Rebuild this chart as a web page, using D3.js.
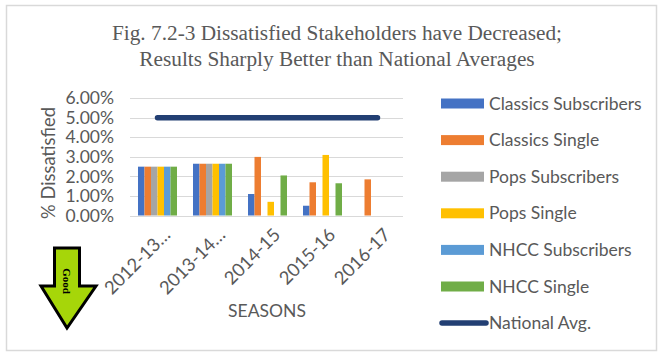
<!DOCTYPE html>
<html>
<head>
<meta charset="utf-8">
<script src="https://cdn.jsdelivr.net/npm/d3@7/dist/d3.min.js"></script>
<style>
  html, body { margin: 0; padding: 0; background: #fff; }
  svg { display: block; }
</style>
</head>
<body>
<svg id="chart" width="665" height="359"></svg>
<script>
// ---- Data ----
const seasons = ["2012-13…", "2013-14…", "2014-15", "2015-16", "2016-17"];
const seriesNames = ["Classics Subscribers", "Classics Single", "Pops Subscribers", "Pops Single", "NHCC Subscribers", "NHCC Single"];
const classicsSubscribers = [2.5, 2.65, 1.1, 0.5, null];
const classicsSingle      = [2.5, 2.65, 3.0, 1.7, 1.85];
const popsSubscribers     = [2.5, 2.65, null, null, null];
const popsSingle          = [2.5, 2.65, 0.7, 3.1, null];
const nhccSubscribers     = [2.5, 2.65, null, null, null];
const nhccSingle          = [2.5, 2.65, 2.05, 1.65, null];
const nationalAvg         = [5, 5, 5, 5, 5];
const yTicks = [0, 1, 2, 3, 4, 5, 6];
const titleLines = ["Fig. 7.2-3 Dissatisfied Stakeholders have Decreased;", "Results Sharply Better than National Averages"];

const seriesValues = [classicsSubscribers, classicsSingle, popsSubscribers, popsSingle, nhccSubscribers, nhccSingle];
const colors = ["#4472C4", "#ED7D31", "#A5A5A5", "#FFC000", "#5B9BD5", "#70AD47"];
const lineColor = "#223F73";
const textColor = "#595959";
const font = "Lato, 'Open Sans', sans-serif";

const svg = d3.select("#chart");

// Chart border
svg.append("rect").attr("x", 6.5).attr("y", 5.5).attr("width", 650).attr("height", 345)
  .attr("fill", "#fff").attr("stroke", "#d9d9d9").attr("stroke-width", 1.5);

// Title
svg.append("g").selectAll("text").data(titleLines).join("text")
  .attr("x", 337).attr("y", (d, i) => 40 + i * 26)
  .attr("text-anchor", "middle")
  .attr("font-family", "'Liberation Serif', 'Times New Roman', serif")
  .attr("font-size", 21.3).attr("fill", textColor)
  .text(d => d);

// Scales
const x0 = d3.scaleBand().domain(seasons).range([130, 405]).paddingInner(0).paddingOuter(0);
const groupPad = (1 - 39 / 55) / 2;
const x1 = d3.scaleBand().domain(seriesNames)
  .range([x0.bandwidth() * groupPad, x0.bandwidth() * (1 - groupPad)]).paddingInner(0).paddingOuter(0);
const y = d3.scaleLinear().domain([0, 6]).range([215.5, 98.3]);

// Gridlines
svg.append("g").selectAll("line").data(yTicks).join("line")
  .attr("x1", 130).attr("x2", 403)
  .attr("y1", d => Math.round(y(d)) + 0.5).attr("y2", d => Math.round(y(d)) + 0.5)
  .attr("stroke", "#d9d9d9").attr("stroke-width", 1);

// Y axis labels
const yAxis = d3.axisLeft(y).tickValues(yTicks).tickSize(0).tickPadding(0)
  .tickFormat(d => d3.format(".2f")(d) + "%");
const yg = svg.append("g").attr("transform", "translate(114,0)").call(yAxis);
yg.select(".domain").remove();
yg.selectAll("text").attr("font-family", font).attr("font-size", 17.5).attr("fill", textColor);

// Bars
const flat = [];
seriesValues.forEach((vals, si) => vals.forEach((v, ci) => {
  if (v != null) flat.push({ s: seriesNames[si], si, c: seasons[ci], v });
}));
svg.append("g").selectAll("rect").data(flat).join("rect")
  .attr("x", d => x0(d.c) + x1(d.s))
  .attr("width", x1.bandwidth())
  .attr("y", d => y(d.v))
  .attr("height", d => y(0) - y(d.v))
  .attr("fill", d => colors[d.si]);

// National average line
const line = d3.line().x((d, i) => x0(seasons[i]) + x0.bandwidth() / 2).y(d => y(d));
svg.append("path").datum(nationalAvg).attr("d", line)
  .attr("fill", "none").attr("stroke", lineColor).attr("stroke-width", 5.5)
  .attr("stroke-linecap", "round");

// X axis labels
const xAxis = d3.axisBottom(x0).tickSize(0).tickPadding(0);
const xg = svg.append("g").attr("transform", "translate(0,227)").call(xAxis);
xg.select(".domain").remove();
xg.selectAll("text")
  .attr("font-family", font).attr("font-size", 18.3).attr("fill", textColor)
  .attr("text-anchor", "end")
  .attr("dy", "0.7em")
  .attr("transform", "translate(5,0) rotate(-45)");

// Axis titles
svg.append("text").attr("x", 267).attr("y", 317).attr("text-anchor", "middle")
  .attr("font-family", font).attr("font-size", 17.5).attr("fill", textColor).text("SEASONS");
svg.append("text").attr("transform", "translate(55,163) rotate(-90)").attr("text-anchor", "middle")
  .attr("font-family", font).attr("font-size", 18.3).attr("fill", textColor).text("% Dissatisfied");

// Legend
const legendItems = seriesNames.map((n, i) => ({ name: n, color: colors[i], type: "bar" }))
  .concat([{ name: "National Avg.", color: lineColor, type: "line" }]);
const lg = svg.append("g").selectAll("g").data(legendItems).join("g")
  .attr("transform", (d, i) => `translate(441,${103.5 + i * 36.6})`);
lg.filter(d => d.type === "bar").append("rect")
  .attr("x", 0).attr("y", -5).attr("width", 43).attr("height", 10).attr("fill", d => d.color);
lg.filter(d => d.type === "line").append("line")
  .attr("x1", 1).attr("x2", 45).attr("y1", 0).attr("y2", 0)
  .attr("stroke", d => d.color).attr("stroke-width", 5.5).attr("stroke-linecap", "round");
lg.append("text").attr("x", 48).attr("y", 0).attr("dy", "0.35em")
  .attr("font-family", font).attr("font-size", 17.5).attr("fill", textColor)
  .text(d => d.name);

// "Good" arrow
const arrowPts = [[54.5, 248], [79.5, 248], [79.5, 286], [96, 286], [67, 328], [41, 286], [54.5, 286]];
svg.append("path").attr("d", d3.line()(arrowPts) + "Z")
  .attr("fill", "#A6D609").attr("stroke", "#000").attr("stroke-width", 3).attr("stroke-linejoin", "miter");
svg.append("text").attr("transform", "translate(63,281) rotate(90)").attr("text-anchor", "middle")
  .attr("font-family", "'Liberation Serif', serif").attr("font-size", 11).attr("font-weight", "bold")
  .attr("fill", "#000").text("Good");
</script>
</body>
</html>
